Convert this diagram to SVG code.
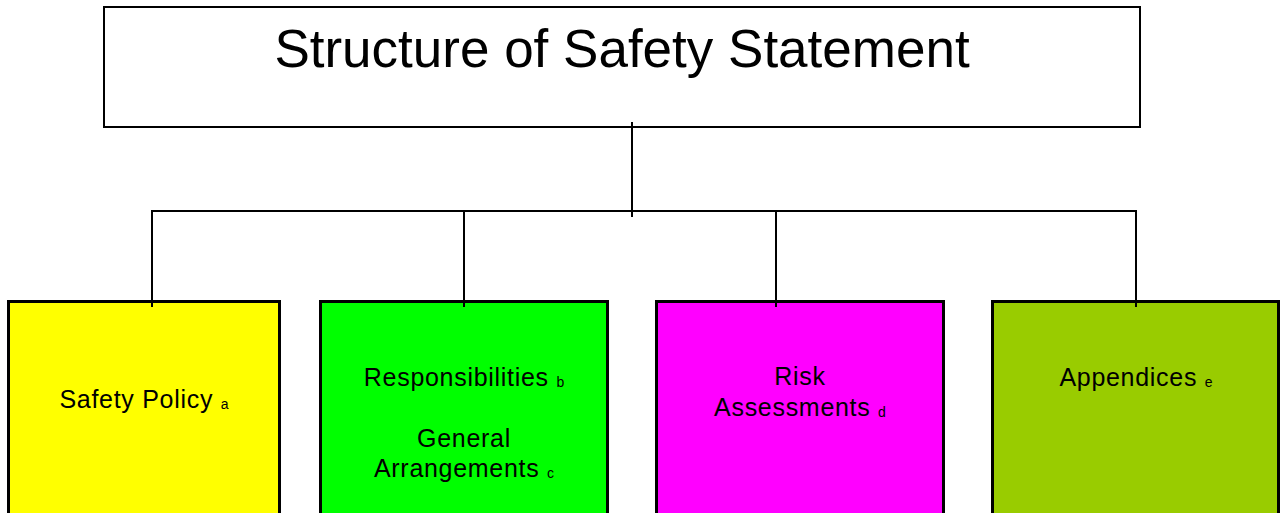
<svg xmlns="http://www.w3.org/2000/svg" width="1280" height="513" viewBox="0 0 1280 513">
<style>
text{font-family:"Liberation Sans",Arial,sans-serif;fill:#000;text-anchor:middle}
.lbl{font-size:25px;letter-spacing:0.7px}
.sub{font-size:14px;letter-spacing:0}
.box{stroke:#000;stroke-width:3}
.conn{stroke:#000;stroke-width:2;fill:none}
</style>
<rect width="1280" height="513" fill="#fff"/>
<g id="title">
<rect x="104" y="7" width="1036" height="120" fill="#fff" stroke="#000" stroke-width="2"/>
<text x="622" y="67" style="font-size:53px">Structure of Safety Statement</text>
</g>
<g id="node-a">
<rect class="box" x="8.5" y="301.5" width="271" height="230" fill="#ffff00"/>
<text class="lbl" x="144" y="408">Safety Policy <tspan class="sub" dy="1">a</tspan></text>
</g>
<g id="node-bc">
<rect class="box" x="320.5" y="301.5" width="287" height="230" fill="#00ff00"/>
<text class="lbl" x="464" y="386">Responsibilities <tspan class="sub" dy="1">b</tspan></text>
<text class="lbl" x="464" y="447">General</text>
<text class="lbl" x="464" y="477">Arrangements <tspan class="sub" dy="1">c</tspan></text>
</g>
<g id="node-d">
<rect class="box" x="656.5" y="301.5" width="287" height="230" fill="#ff00ff"/>
<text class="lbl" x="800" y="385">Risk</text>
<text class="lbl" x="800" y="416">Assessments <tspan class="sub" dy="1">d</tspan></text>
</g>
<g id="node-e">
<rect class="box" x="992.5" y="301.5" width="286" height="230" fill="#99cc00"/>
<text class="lbl" x="1136" y="386">Appendices <tspan class="sub" dy="1">e</tspan></text>
</g>
<g id="connectors">
<path class="conn" d="M632 122V217"/>
<path class="conn" d="M152 307V211H1136V307"/>
<path class="conn" d="M464 211V307"/>
<path class="conn" d="M776 211V307"/>
</g>
</svg>
